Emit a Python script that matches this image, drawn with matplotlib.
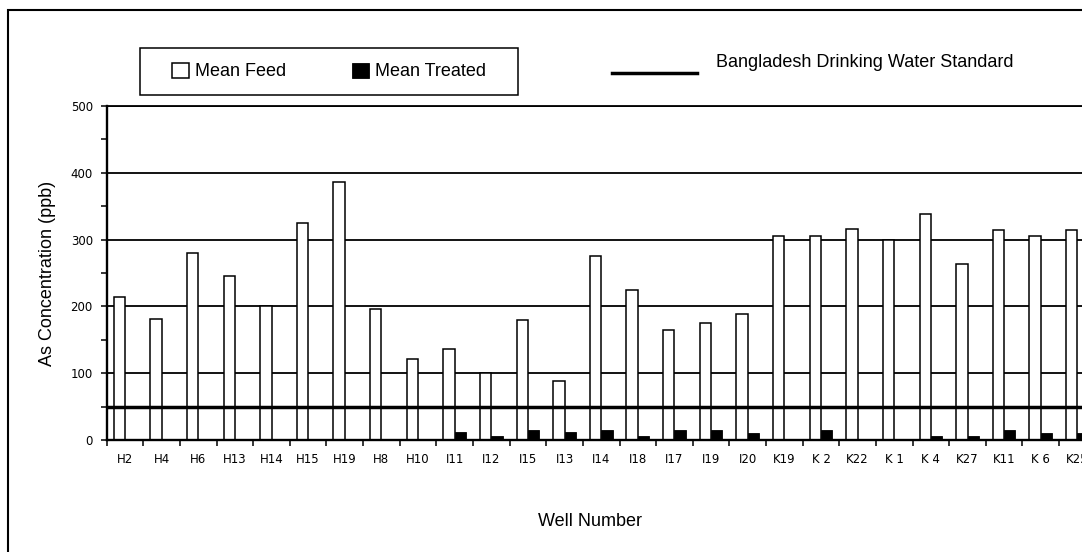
import matplotlib
matplotlib.use("Agg")
import matplotlib.pyplot as plt
import numpy as np
from matplotlib.patches import Rectangle

# Well identifiers along the x axis
wells = ["H2", "H4", "H6", "H13", "H14", "H15", "H19", "H8", "H10",
         "I11", "I12", "I15", "I13", "I14", "I18", "I17", "I19", "I20",
         "K19", "K 2", "K22", "K 1", "K 4", "K27", "K11", "K 6", "K25"]

# Mean arsenic concentration (ppb) in feed and treated water
mean_feed = [214, 181, 280, 245, 200, 325, 386, 196, 122,
             136, 100, 180, 89, 275, 225, 164, 175, 189,
             305, 305, 316, 300, 339, 264, 314, 305, 314]
mean_treated = [0, 0, 0, 0, 0, 0, 0, 0, 0,
                12, 6, 15, 12, 15, 6, 15, 15, 10,
                0, 15, 0, 0, 6, 6, 15, 10, 10]

# Bangladesh drinking water standard for arsenic (ppb)
bd_standard = 50

y_ticks = [0, 100, 200, 300, 400, 500]

TEXT_FONT = ["Liberation Sans", "DejaVu Sans"]
TICK_FONT = ["DejaVu Sans"]
TEXT_SIZE = 13

W, H = 1082, 552
fig = plt.figure(figsize=(W / 100, H / 100), dpi=100)

# plot area in pixels: left 106.7, top 106, bottom 440, 36.63 px per well
n = len(wells)
cat_px = 36.63
ax = fig.add_axes([106.7 / W, 1 - 440 / H, n * cat_px / W, (440 - 106) / H])

x = np.arange(n)
bw = 0.31
feed_bars = ax.bar(x - bw / 2, mean_feed, width=bw, color="white",
                   edgecolor="black", linewidth=1.1, zorder=2)
treated_bars = ax.bar(x + bw / 2, mean_treated, width=bw, color="black",
                      edgecolor="black", linewidth=0.6, zorder=2)
std_line = ax.axhline(bd_standard, color="black", lw=2.5, zorder=3)

ax.set_xlim(-0.5, n - 0.5)
ax.set_ylim(y_ticks[0], y_ticks[-1])

# category boundaries carry the tick marks, centres carry the labels
ax.set_xticks(np.arange(-0.5, n, 1.0))
ax.set_xticks(x, wells, minor=True)
ax.tick_params(axis="x", which="major", length=4, width=1.1,
               direction="out", labelbottom=False)
ax.tick_params(axis="x", which="minor", length=0, pad=9.5)
for lbl in ax.get_xticklabels(minor=True):
    lbl.set_family(TICK_FONT)
    lbl.set_fontsize(8.5)

ax.set_yticks(y_ticks)
ax.set_yticks(np.arange(50, 500, 100), minor=True)
ax.tick_params(axis="y", which="both", length=4, width=1.1,
               direction="out", pad=6)
for lbl in ax.get_yticklabels():
    lbl.set_family(TICK_FONT)
    lbl.set_fontsize(8.5)

ax.yaxis.grid(True, which="major", color="black", lw=1.3)
ax.set_axisbelow(True)

for side in ["left", "bottom"]:
    ax.spines[side].set_linewidth(1.7)
ax.spines["top"].set_linewidth(1.3)
ax.spines["right"].set_visible(False)

ax.set_ylabel("As Concentration (ppb)", family=TEXT_FONT, fontsize=TEXT_SIZE,
              va="center")
ax.yaxis.set_label_coords((47 - 106.7) / (n * cat_px), 0.5)
ax.set_xlabel("Well Number", family=TEXT_FONT, fontsize=TEXT_SIZE, va="center")
ax.xaxis.set_label_coords((590 - 106.7) / (n * cat_px), (440 - 521) / 334)

# legend for the two bar series
leg1 = fig.legend([feed_bars, treated_bars], ["Mean Feed", "Mean Treated"],
                  ncol=2, loc="center",
                  bbox_to_anchor=(329 / W, 1 - 71.5 / H),
                  frameon=True, fancybox=False, edgecolor="black",
                  framealpha=1, prop=dict(family=TEXT_FONT, size=TEXT_SIZE),
                  handlelength=0.9, handleheight=0.9, handletextpad=0.33,
                  columnspacing=3.7, borderpad=0.8, borderaxespad=0)
frame = leg1.get_frame()
frame.set_linewidth(1.1)
frame.set_boxstyle("square", pad=1.0)
frame.set_mutation_aspect(0.001)

# legend for the standard line
leg2 = fig.legend([std_line], ["Bangladesh Drinking Water Standard"],
                  loc="center left", bbox_to_anchor=(612 / W, 1 - 62 / H),
                  frameon=False, prop=dict(family=TEXT_FONT, size=TEXT_SIZE),
                  handlelength=4.7, handletextpad=1.05, borderpad=0,
                  borderaxespad=0)
# sit the key line just below the text baseline
key = leg2.legend_handles[0]
key.set_ydata(np.full(len(key.get_xdata()), -4.5))
key.set_linewidth(2.5)

# outer chart border
fig.add_artist(Rectangle((8 / W, -0.2), 1.5, (1 - 10 / H) + 0.2,
                         transform=fig.transFigure, fill=False,
                         edgecolor="black", lw=1.5, clip_on=False))

fig.savefig("out.png", dpi=100)
